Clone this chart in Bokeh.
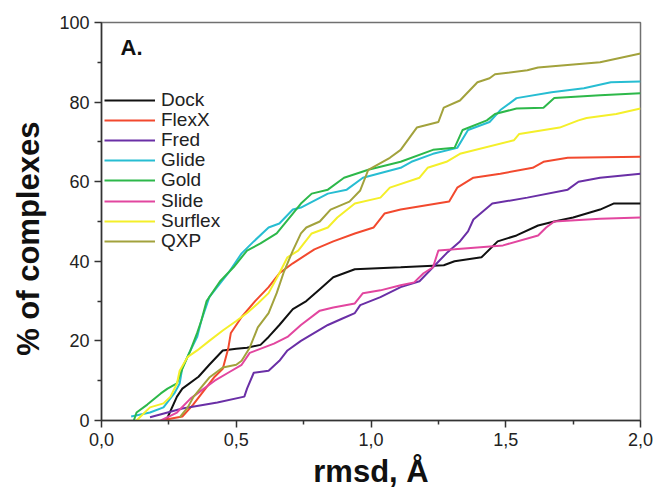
from bokeh.plotting import figure
from bokeh.models import Range1d, Legend, LegendItem, Label, CustomJSTickFormatter, FixedTicker
from bokeh.embed import file_html
from bokeh.resources import INLINE

names = ["Dock", "FlexX", "Fred", "Glide", "Gold", "Slide", "Surflex", "QXP"]
colors = ["#111111", "#f2492e", "#6a2fa6", "#27bdd2", "#2db84a", "#e2469f", "#f4ef2a", "#a2a23c"]

dock_x = [0.24, 0.28, 0.30, 0.36, 0.40, 0.45, 0.50, 0.54, 0.59, 0.62, 0.66, 0.71, 0.76, 0.81, 0.86, 0.94, 1.11, 1.27, 1.31, 1.41, 1.47, 1.54, 1.62, 1.68, 1.75, 1.85, 1.90, 2.00]
dock_y = [0, 6, 8, 11, 14, 17.6, 18, 18.3, 19, 21, 24, 28, 30, 33, 36, 38, 38.5, 39, 40, 41, 45, 46.5, 49, 50, 51, 53, 54.5, 54.5]

flexx_x = [0.22, 0.30, 0.34, 0.38, 0.42, 0.45, 0.47, 0.48, 0.52, 0.57, 0.62, 0.66, 0.71, 0.79, 0.86, 0.94, 1.01, 1.05, 1.11, 1.29, 1.32, 1.38, 1.48, 1.60, 1.64, 1.73, 2.00]
flexx_y = [0, 1, 4, 7.5, 11, 13, 18, 22, 26, 30, 33.5, 37, 39.5, 43, 45, 47, 48.5, 52, 53, 55, 58.5, 61, 62, 63.5, 65, 66, 66.3]

fred_x = [0.18, 0.30, 0.43, 0.53, 0.54, 0.565, 0.62, 0.66, 0.69, 0.74, 0.79, 0.84, 0.89, 0.94, 0.96, 1.035, 1.11, 1.18, 1.23, 1.28, 1.33, 1.36, 1.38, 1.45, 1.58, 1.73, 1.77, 1.85, 2.00]
fred_y = [0.8, 3, 4.5, 6, 8, 12, 12.5, 15, 17.6, 20, 22, 24, 25.5, 27, 29, 31, 33.5, 35, 38.5, 42, 45, 47.5, 50.5, 54.5, 56, 58, 60, 61, 62]

glide_x = [0.11, 0.18, 0.23, 0.27, 0.29, 0.30, 0.33, 0.355, 0.37, 0.40, 0.47, 0.52, 0.565, 0.62, 0.66, 0.71, 0.74, 0.84, 0.91, 0.97, 1.11, 1.15, 1.23, 1.32, 1.36, 1.44, 1.48, 1.54, 1.67, 1.79, 1.89, 2.00]
glide_y = [1, 2, 3.3, 6.8, 9.3, 13.3, 17.6, 21, 25, 31, 37, 42, 45, 48.5, 49.5, 53, 53.5, 57, 58, 61, 63.5, 65, 67, 68.5, 73, 75, 78, 81, 82.5, 83.5, 85, 85.2]

gold_x = [0.12, 0.13, 0.17, 0.22, 0.245, 0.28, 0.30, 0.33, 0.355, 0.37, 0.39, 0.44, 0.49, 0.54, 0.59, 0.65, 0.71, 0.74, 0.78, 0.84, 0.90, 0.99, 1.11, 1.23, 1.31, 1.34, 1.43, 1.46, 1.54, 1.64, 1.68, 1.85, 2.00]
gold_y = [0, 2, 4, 6.8, 8, 9.3, 13, 17.6, 22, 25, 30, 35, 38.5, 42.7, 44.5, 47, 52, 54.5, 57, 58, 61, 63, 65, 68, 68.5, 73, 75.4, 77, 78.4, 78.6, 81, 81.7, 82.2]

slide_x = [0.22, 0.28, 0.33, 0.37, 0.42, 0.47, 0.52, 0.55, 0.64, 0.69, 0.74, 0.81, 0.86, 0.94, 0.97, 1.035, 1.11, 1.16, 1.195, 1.23, 1.25, 1.31, 1.49, 1.62, 1.65, 1.68, 1.85, 2.00]
slide_y = [0, 2, 5.5, 7.5, 10, 12, 14, 17, 19.3, 21, 24, 27.6, 28.4, 29.4, 32, 32.7, 34, 34.7, 37, 38.5, 42.7, 43, 44, 46.5, 48.5, 50, 50.7, 51]

surflex_x = [0.13, 0.145, 0.18, 0.23, 0.256, 0.28, 0.29, 0.32, 0.355, 0.40, 0.45, 0.50, 0.54, 0.58, 0.62, 0.66, 0.69, 0.73, 0.78, 0.84, 0.875, 0.94, 1.035, 1.07, 1.18, 1.21, 1.28, 1.33, 1.53, 1.55, 1.70, 1.77, 1.80, 1.91, 2.00]
surflex_y = [0, 1, 3.3, 4.3, 6, 9.3, 12.5, 16, 17.6, 20, 22.6, 25, 27, 29.4, 32, 37, 41, 42.7, 47, 48.5, 51, 54.5, 56, 58.5, 61, 63.5, 65, 67, 70.4, 72, 73.6, 75.4, 76, 77, 78.4]

qxp_x = [0.29, 0.32, 0.34, 0.37, 0.40, 0.45, 0.50, 0.52, 0.55, 0.58, 0.62, 0.65, 0.675, 0.71, 0.74, 0.76, 0.81, 0.85, 0.92, 0.96, 0.99, 1.07, 1.11, 1.17, 1.25, 1.27, 1.33, 1.395, 1.44, 1.46, 1.58, 1.62, 1.85, 2.00]
qxp_y = [0.8, 3.3, 5.8, 8.3, 10.8, 13.3, 14, 15, 18.3, 23.4, 27, 32, 37, 42.7, 47, 48.5, 50, 53, 55, 57.8, 63, 66, 68, 73.6, 75, 78.6, 80.4, 85, 86, 87, 88, 88.7, 90, 92.2]

xs = [dock_x, flexx_x, fred_x, glide_x, gold_x, slide_x, surflex_x, qxp_x]
ys = [dock_y, flexx_y, fred_y, glide_y, gold_y, slide_y, surflex_y, qxp_y]

x_ticks = [0.0, 0.5, 1.0, 1.5, 2.0]
y_ticks = [0, 20, 40, 60, 80, 100]

FONT = "Liberation Sans"
FRAME_H = 398

p = figure(frame_width=539, frame_height=FRAME_H, output_backend="svg", toolbar_location=None,
           x_range=Range1d(0, 2), y_range=Range1d(0, 100),
           min_border_left=101, min_border_right=15, min_border_top=22, min_border_bottom=71,
           background_fill_color="white", border_fill_color="white")
p.grid.visible = False
p.outline_line_color = "#707070"
p.outline_line_width = 1.5

renderers = []
for x, y, c in zip(xs, ys, colors):
    r = p.line(x, y, line_color=c, line_width=2)
    renderers.append(r)

# one single-row legend per entry, so the row pitch can be set exactly
row_pitch = 20.1
first_row_center = 78  # px below frame top
for i, (n, r) in enumerate(zip(names, renderers)):
    center_from_bottom = FRAME_H - first_row_center - row_pitch * i
    lg = Legend(items=[LegendItem(label=n, renderers=[r])],
                location=(3, int(round(center_from_bottom - 11))),
                glyph_width=51, glyph_height=20, label_height=20, spacing=0,
                padding=0, margin=0, label_standoff=6,
                label_text_font=FONT, label_text_font_size="19px", label_text_color="#222222",
                border_line_color=None, background_fill_alpha=0)
    p.add_layout(lg)

p.add_layout(Label(x=19, y=386, x_units="screen", y_units="screen", text="A.",
                   text_font=FONT, text_font_style="bold", text_font_size="22px",
                   text_baseline="top", text_color="#111111"))

for ax in (p.xaxis[0], p.yaxis[0]):
    ax.axis_line_color = "#333333"
    ax.axis_line_width = 1.5
    ax.major_tick_line_color = "#333333"
    ax.minor_tick_line_color = "#333333"
    ax.major_tick_line_width = 1.5
    ax.minor_tick_line_width = 1.5
    ax.major_tick_in = 0
    ax.major_tick_out = 7
    ax.minor_tick_in = 0
    ax.minor_tick_out = 4
    ax.major_label_text_font = FONT
    ax.major_label_text_font_size = "18px"
    ax.major_label_text_color = "#222222"
    ax.major_label_standoff = 5
    ax.axis_label_text_font = FONT
    ax.axis_label_text_font_style = "bold"
    ax.axis_label_text_color = "#111111"

p.xaxis[0].ticker = FixedTicker(ticks=x_ticks, minor_ticks=[0.25, 0.75, 1.25, 1.75])
p.yaxis[0].ticker = FixedTicker(ticks=y_ticks, minor_ticks=[10, 30, 50, 70, 90])
p.xaxis[0].formatter = CustomJSTickFormatter(code="return tick.toFixed(1).replace('.', ',');")
p.xaxis[0].axis_label = "rmsd, Å"
p.xaxis[0].axis_label_text_font_size = "31px"
p.xaxis[0].axis_label_standoff = 5
# trailing no-break spaces move the centred label down a little, as in the original
p.yaxis[0].axis_label = "% of complexes" + "\u00a0" * 4
p.yaxis[0].axis_label_text_font_size = "31px"
p.yaxis[0].axis_label_standoff = 10

open("out.html", "w").write(file_html(p, INLINE))
